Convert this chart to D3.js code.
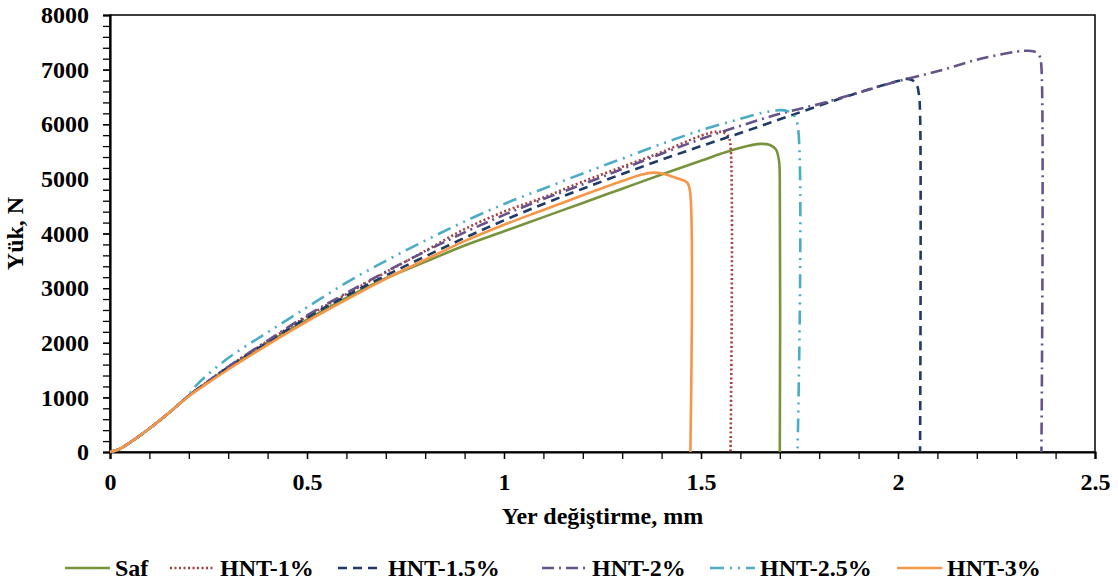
<!DOCTYPE html>
<html>
<head>
<meta charset="utf-8">
<script src="https://cdn.jsdelivr.net/npm/d3@7"></script>
<style>
  body { margin: 0; background: #fff; }
  text { font-family: "Liberation Serif", "Times New Roman", serif; font-weight: bold; fill: #000; }
</style>
</head>
<body>
<script>
// load-displacement curves: [displacement mm, load N]
const saf = [[0,0],[0.02,40],[0.05,170],[0.1,430],[0.15,720],[0.2,1030],[0.25,1290],[0.3,1540],[0.4,2000],[0.5,2420],
  [0.6,2820],[0.7,3180],[0.8,3480],[0.9,3780],[1.0,4040],[1.1,4300],[1.2,4560],[1.3,4820],[1.4,5080],[1.5,5330],
  [1.55,5460],[1.6,5570],[1.65,5640],[1.675,5620],[1.69,5540],[1.698,5330],[1.7,5000],[1.7,0]];
const hnt1 = [[0,0],[0.02,40],[0.05,170],[0.1,430],[0.15,720],[0.2,1030],[0.25,1300],[0.3,1560],[0.4,2030],[0.5,2480],
  [0.6,2890],[0.7,3290],[0.8,3680],[0.9,4080],[1.0,4400],[1.1,4660],[1.2,4950],[1.3,5220],[1.4,5490],[1.5,5790],
  [1.54,5864],[1.56,5840],[1.57,5770],[1.575,5600],[1.575,0]];
const hnt15 = [[0,0],[0.02,40],[0.05,170],[0.1,430],[0.15,720],[0.2,1030],[0.25,1300],[0.3,1550],[0.4,2010],[0.5,2460],
  [0.6,2860],[0.7,3230],[0.8,3580],[0.9,3920],[1.0,4240],[1.1,4540],[1.2,4820],[1.3,5090],[1.4,5350],[1.5,5600],
  [1.6,5840],[1.7,6090],[1.8,6340],[1.9,6580],[2.0,6790],[2.025,6830],[2.045,6760],[2.053,6550],[2.056,6200],[2.056,0]];
const hnt2 = [[0,0],[0.02,40],[0.05,170],[0.1,430],[0.15,720],[0.2,1030],[0.25,1300],[0.3,1560],[0.4,2040],[0.5,2500],
  [0.6,2910],[0.7,3300],[0.8,3670],[0.9,4020],[1.0,4340],[1.1,4630],[1.2,4900],[1.3,5180],[1.4,5460],[1.5,5730],
  [1.6,5970],[1.7,6190],[1.8,6370],[1.9,6580],[2.0,6790],[2.1,6970],[2.2,7180],[2.3,7330],[2.33,7345],[2.35,7320],
  [2.36,7240],[2.364,7050],[2.364,0]];
const hnt25 = [[0,0],[0.02,40],[0.05,170],[0.1,430],[0.15,720],[0.2,1050],[0.22,1230],[0.3,1720],[0.4,2190],[0.5,2650],
  [0.6,3100],[0.7,3500],[0.8,3870],[0.9,4220],[1.0,4540],[1.1,4820],[1.2,5100],[1.3,5370],[1.4,5640],[1.5,5890],
  [1.6,6100],[1.65,6200],[1.7,6258],[1.72,6240],[1.735,6170],[1.745,6000],[1.745,0]];
const hnt3 = [[0,0],[0.02,40],[0.05,170],[0.1,430],[0.15,720],[0.2,1020],[0.25,1270],[0.3,1510],[0.4,1960],[0.5,2390],
  [0.6,2790],[0.7,3170],[0.8,3520],[0.9,3860],[1.0,4160],[1.1,4430],[1.2,4700],[1.3,4960],[1.35,5080],[1.38,5115],
  [1.4,5100],[1.44,5010],[1.465,4930],[1.472,4780],[1.473,0]];

const seriesNames = ["Saf", "HNT-1%", "HNT-1.5%", "HNT-2%", "HNT-2.5%", "HNT-3%"];
const seriesData = [saf, hnt1, hnt15, hnt2, hnt25, hnt3];
const seriesColors = ["#77933C", "#A5413E", "#1F3A64", "#65538A", "#4BACC6", "#F79646"];
const seriesDash = ["none", "2,2.5", "9,6", "12,5,2,5", "14,6,2,6,2,6", "none"];

const xTicks = [0, 0.5, 1, 1.5, 2, 2.5];
const yTicks = [0, 1000, 2000, 3000, 4000, 5000, 6000, 7000, 8000];

const width = 1118, height = 585;
const margin = {top: 15, right: 23, bottom: 133, left: 110};

const svg = d3.select("body").append("svg")
  .attr("width", width)
  .attr("height", height);

const x = d3.scaleLinear().domain([0, 2.5]).range([margin.left, width - margin.right]);
const y = d3.scaleLinear().domain([0, 8000]).range([height - margin.bottom, margin.top]);

// plot frame (top + right)
svg.append("rect")
  .attr("x", x(0)).attr("y", y(8000))
  .attr("width", x(2.5) - x(0)).attr("height", y(0) - y(8000))
  .attr("fill", "none").attr("stroke", "#000").attr("stroke-width", 1.5);

// minor ticks
svg.append("g")
  .attr("transform", "translate(0," + y(0) + ")")
  .call(d3.axisBottom(x).tickValues(d3.range(0, 26).map(i => i / 10)).tickSize(7).tickFormat(""))
  .call(g => g.select(".domain").remove())
  .call(g => g.selectAll("line").attr("stroke-width", 1.3));
svg.append("g")
  .attr("transform", "translate(" + x(0) + ",0)")
  .call(d3.axisLeft(y).tickValues(d3.range(0, 41).map(i => i * 200)).tickSize(7).tickFormat(""))
  .call(g => g.select(".domain").remove())
  .call(g => g.selectAll("line").attr("stroke-width", 1.3));

// main axes with labels
const xAxis = svg.append("g")
  .attr("transform", "translate(0," + y(0) + ")")
  .call(d3.axisBottom(x).tickValues(xTicks).tickSize(7).tickPadding(14).tickFormat(d3.format("")));
const yAxis = svg.append("g")
  .attr("transform", "translate(" + x(0) + ",0)")
  .call(d3.axisLeft(y).tickValues(yTicks).tickSize(7).tickPadding(14).tickFormat(d3.format("d")));

[xAxis, yAxis].forEach(a => {
  a.select(".domain").attr("stroke-width", 2.2);
  a.selectAll("line").attr("stroke-width", 1.3);
  a.selectAll("text").style("font-size", "24px")
    .style("font-family", "'Liberation Serif', serif").style("font-weight", "bold");
});

// curves
const line = d3.line()
  .x(d => x(d[0]))
  .y(d => y(d[1]))
  .curve(d3.curveCatmullRom.alpha(0.5));

svg.selectAll(".curve")
  .data(seriesData)
  .enter().append("path")
  .attr("class", "curve")
  .attr("d", line)
  .attr("fill", "none")
  .attr("stroke", (d, i) => seriesColors[i])
  .attr("stroke-width", 2.6)
  .attr("stroke-dasharray", (d, i) => seriesDash[i]);

// axis titles
svg.append("text")
  .attr("x", (x(0) + x(2.5)) / 2)
  .attr("y", 524)
  .attr("text-anchor", "middle")
  .style("font-size", "24px")
  .text("Yer değiştirme, mm");

svg.append("text")
  .attr("transform", "translate(23," + ((y(0) + y(8000)) / 2) + ") rotate(-90)")
  .attr("text-anchor", "middle")
  .style("font-size", "24px")
  .text("Yük, N");

// legend
const legendTextX = [115, 220, 388, 592, 760, 947];
const legend = svg.selectAll(".legend")
  .data(seriesNames)
  .enter().append("g")
  .attr("class", "legend")
  .attr("transform", (d, i) => "translate(" + legendTextX[i] + ",568)");

legend.append("line")
  .attr("x1", -50).attr("x2", -5)
  .attr("stroke", (d, i) => seriesColors[i])
  .attr("stroke-width", 2.6)
  .attr("stroke-dasharray", (d, i) => seriesDash[i]);

legend.append("text")
  .attr("x", 0)
  .attr("y", 8)
  .style("font-size", "24px")
  .text(d => d);
</script>
</body>
</html>
